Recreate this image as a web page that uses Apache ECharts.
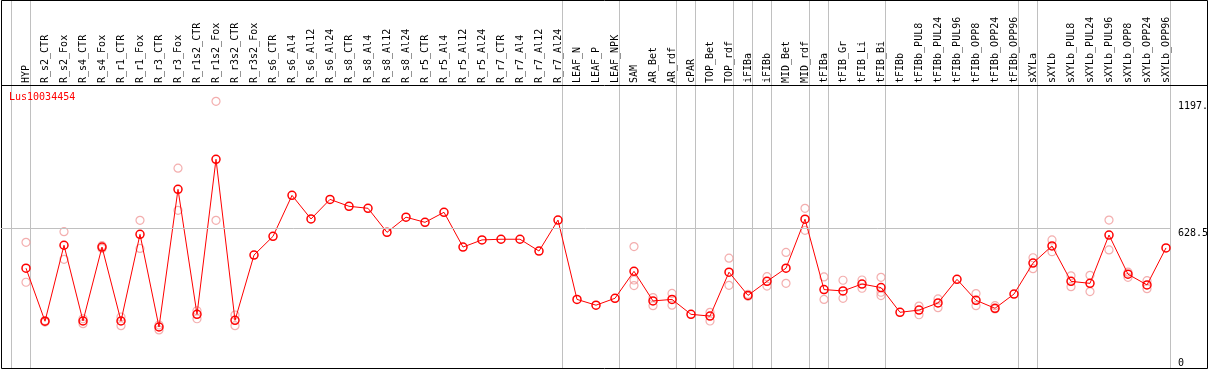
<!DOCTYPE html>
<html>
<head>
<meta charset="utf-8">
<script src="https://cdn.jsdelivr.net/npm/echarts@6/dist/echarts.min.js"></script>
<style>
  html, body { margin: 0; padding: 0; background: #fff; }
  #chart { width: 1209px; height: 370px; }
</style>
</head>
<body>
<div id="chart"></div>
<script>
// sample names
const categories = [
  'HYP', 'R_s2_CTR', 'R_s2_Fox', 'R_s4_CTR', 'R_s4_Fox', 'R_r1_CTR', 'R_r1_Fox', 'R_r3_CTR', 'R_r3_Fox',
  'R_r1s2_CTR', 'R_r1s2_Fox', 'R_r3s2_CTR', 'R_r3s2_Fox', 'R_s6_CTR', 'R_s6_Al4', 'R_s6_Al12', 'R_s6_Al24',
  'R_s8_CTR', 'R_s8_Al4', 'R_s8_Al12', 'R_s8_Al24', 'R_r5_CTR', 'R_r5_Al4', 'R_r5_Al12', 'R_r5_Al24',
  'R_r7_CTR', 'R_r7_Al4', 'R_r7_Al12', 'R_r7_Al24', 'LEAF_N', 'LEAF_P', 'LEAF_NPK', 'SAM', 'AR_Bet', 'AR_rdf',
  'cPAR', 'TOP_Bet', 'TOP_rdf', 'iFIBa', 'iFIBb', 'MID_Bet', 'MID_rdf', 'tFIBa', 'tFIB_Gr', 'tFIB_Li', 'tFIB_Bi',
  'tFIBb', 'tFIBb_PUL8', 'tFIBb_PUL24', 'tFIBb_PUL96', 'tFIBb_OPP8', 'tFIBb_OPP24', 'tFIBb_OPP96', 'sXYLa',
  'sXYLb', 'sXYLb_PUL8', 'sXYLb_PUL24', 'sXYLb_PUL96', 'sXYLb_OPP8', 'sXYLb_OPP24', 'sXYLb_OPP96'
];
// mean expression
const meanValues = [
  448, 210, 551, 211, 543, 211, 600, 184, 802, 241, 937, 214, 507,
  591, 775, 669, 757, 726, 717, 609, 677, 654, 699, 543, 575, 578, 578, 525, 664,
  308, 282, 313,
  434, 301, 308, 241, 233, 430, 326, 389, 448, 668, 352, 346, 377, 361,
  250, 260, 292, 398, 304, 268, 332, 471, 548, 389, 380, 597, 421, 373, 539
];
// replicates (null = none drawn)
const rep1 = [
  564, 213, 612, 221, 549, 229, 663, 193, 897, 257, 1197, 238, null,
  null, null, null, null, null, null, null, null, null, null, null, null, null, null, null, null,
  null, null, null,
  545, 316, 335, null, 250, 493, 331, 410, 519, 717, 409, 394, 395, 407,
  null, 278, 310, null, 334, 280, null, 495, 575, 414, 416, 664, 430, 392, null
];
const rep2 = [
  385, 206, 488, 199, 537, 190, 537, 171, 708, 221, 663, 190, null,
  null, null, null, null, null, null, null, null, null, null, null, null, null, null, null, null,
  null, null, null,
  395, 280, 282, null, 211, 371, 322, 368, 380, 618, 308, 313, 358, 325,
  null, 239, 271, null, 280, 265, null, 446, 522, 365, 343, 530, 407, 356, null
];
const rep3 = [
  null, null, null, null, null, null, null, null, null, null, null, null, null,
  null, null, null, null, null, null, null, null, null, null, null, null, null, null, null, null,
  null, null, null,
  370, null, null, null, null, null, null, null, null, null, null, null, null, 340,
  null, null, null, null, null, null, null, null, null, null, null, null, null, null, null
];
// last sample index of each group (-1 = left edge)
const groupEnds = [-1, 0, 28, 31, 34, 35, 37, 38, 39, 41, 42, 45, 52, 53, 60];
const yTickValues = [0, 628.5, 1197];
const yTickLabels = ['0', '628.5', '1197.'];
const yMax = 1257;
const geneName = 'Lus10034454';

const mono = 'DejaVu Sans Mono';
const chart = echarts.init(document.getElementById('chart'));

const repData = [];
[rep1, rep2, rep3].forEach(arr => arr.forEach((v, i) => { if (v != null) repData.push([i, v]); }));

chart.setOption({
  animation: false,
  backgroundColor: '#fff',
  title: {
    text: geneName, left: 9, top: 92, padding: 0,
    textStyle: { color: '#ff0000', fontSize: 10, fontFamily: mono, fontWeight: 'normal' }
  },
  grid: [
    { left: 16.5, width: 1159, top: 0, height: 85, outerBoundsMode: 'none' },
    { left: 1, right: 39, top: 88, bottom: 2, outerBoundsMode: 'none' }
  ],
  xAxis: [{
    type: 'category', gridIndex: 0, data: categories, boundaryGap: true,
    axisLine: { show: false }, axisTick: { show: false }, splitLine: { show: false },
    axisLabel: { inside: true, rotate: 90, interval: 0, margin: 2, color: '#000', fontSize: 10, fontFamily: mono }
  }, {
    type: 'value', gridIndex: 1, min: -25 / 19, max: 1144 / 19, show: false
  }],
  yAxis: [{
    type: 'value', gridIndex: 0, show: false
  }, {
    type: 'value', gridIndex: 1, position: 'right', min: 0, max: yMax,
    axisLine: { show: false }, axisTick: { show: false }, splitLine: { show: false },
    axisLabel: {
      customValues: yTickValues, margin: 8, align: 'left', verticalAlign: 'middle',
      color: '#000', fontSize: 10, fontFamily: mono,
      formatter: v => {
        const lab = yTickLabels[yTickValues.indexOf(v)];
        return v === 0 ? '{b|' + lab + '}' : '{t|' + lab + '}';
      },
      rich: {
        t: { fontSize: 10, fontFamily: mono, color: '#000', lineHeight: 10, padding: [10, 0, 0, 0] },
        b: { fontSize: 10, fontFamily: mono, color: '#000', lineHeight: 10, padding: [0, 0, 10, 0] }
      }
    }
  }],
  series: [{
    type: 'scatter', xAxisIndex: 1, yAxisIndex: 1, z: 1,
    symbol: 'circle', symbolSize: 8,
    itemStyle: { color: 'rgba(0,0,0,0)', borderColor: '#f09a9a', borderWidth: 1.2 },
    data: repData,
    markLine: {
      silent: true, symbol: ['none', 'none'], label: { show: false },
      lineStyle: { color: '#c0c0c0', width: 1, type: 'solid' },
      data: [{ yAxis: yTickValues[1] }]
    }
  }, {
    type: 'line', xAxisIndex: 1, yAxisIndex: 1, z: 3,
    symbol: 'circle', symbolSize: 8,
    lineStyle: { color: '#ff0000', width: 1 },
    itemStyle: { color: 'rgba(0,0,0,0)', borderColor: '#ff0000', borderWidth: 1.5 },
    data: meanValues.map((v, i) => [i, v])
  }]
});

// frame and group separators, placed through the x scale
const graphics = [];
groupEnds.forEach(g => {
  const x = Math.floor(chart.convertToPixel({ xAxisIndex: 1 }, g + 4.5 / 19)) + 0.5;
  graphics.push({ type: 'line', z: 0, shape: { x1: x, y1: 0, x2: x, y2: 368 },
    style: { stroke: '#c0c0c0', lineWidth: 1 } });
});
graphics.push({ type: 'rect', z: 0, shape: { x: 1.5, y: 0.5, width: 1206, height: 368 },
  style: { fill: 'none', stroke: '#000', lineWidth: 1 } });
graphics.push({ type: 'line', z: 0, shape: { x1: 1.5, y1: 85.5, x2: 1207.5, y2: 85.5 },
  style: { stroke: '#000', lineWidth: 1 } });
chart.setOption({ graphic: graphics });
</script>
</body>
</html>
